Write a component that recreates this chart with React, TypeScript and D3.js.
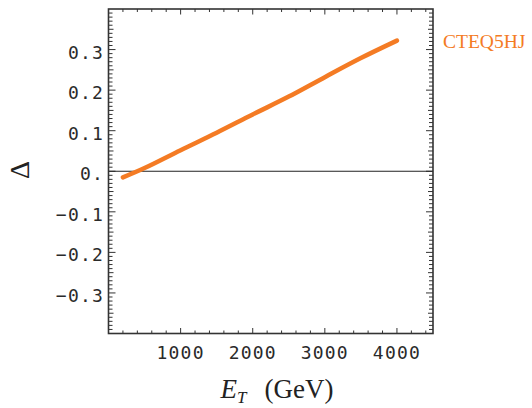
import React, { useEffect, useRef } from "react";
import * as d3 from "d3";

// Δ versus E_T
const energy = [200, 500, 1000, 1500, 2000, 2500, 3000, 3500, 4000];
const delta = [-0.015, 0.008, 0.052, 0.095, 0.14, 0.184, 0.232, 0.279, 0.322];

const xTicks = [1000, 2000, 3000, 4000];
const yTicks = [-0.3, -0.2, -0.1, 0, 0.1, 0.2, 0.3];
const yTickLabels = ["-0.3", "-0.2", "-0.1", "0.", "0.1", "0.2", "0.3"];
const seriesLabel = "CTEQ5HJ";

const W = 532, H = 408;
const orange = "#f47b24";

const App = () => {
  const ref = useRef<SVGSVGElement>(null);

  useEffect(() => {
    const svg = d3.select(ref.current);
    svg.selectAll("*").remove();

    const x = d3.scaleLinear().domain([0, 4500]).range([108.5, 433]);
    const y = d3.scaleLinear().domain([-0.4, 0.4]).range([333.5, 9]);
    const [x0, x1] = x.range();
    const [y0, y1] = y.range();
    const axisCol = "#333";

    const g = svg.append("g");

    // minor / major ticks on all four sides
    const xMinor = d3.range(200, 4500, 200);
    xMinor.forEach((v) => {
      const major = v % 1000 === 0;
      const len = major ? 5.5 : 3;
      g.append("line").attr("x1", x(v)).attr("x2", x(v)).attr("y1", y0).attr("y2", y0 - len)
        .attr("stroke", axisCol).attr("stroke-width", 1);
      g.append("line").attr("x1", x(v)).attr("x2", x(v)).attr("y1", y1).attr("y2", y1 + len)
        .attr("stroke", axisCol).attr("stroke-width", 1);
    });
    const yMinor = d3.range(-39, 40).map((i) => i / 100);
    yMinor.forEach((v) => {
      const k = Math.round(v * 100);
      const major = k % 10 === 0;
      const mid = k % 5 === 0;
      const len = major ? 7 : mid ? 5 : 4;
      g.append("line").attr("x1", x0).attr("x2", x0 + len).attr("y1", y(v)).attr("y2", y(v))
        .attr("stroke", axisCol).attr("stroke-width", 1);
      g.append("line").attr("x1", x1).attr("x2", x1 - len).attr("y1", y(v)).attr("y2", y(v))
        .attr("stroke", axisCol).attr("stroke-width", 1);
    });

    // zero line
    g.append("line").attr("x1", x0).attr("x2", x1).attr("y1", y(0)).attr("y2", y(0))
      .attr("stroke", "#222").attr("stroke-width", 1.2);

    // frame
    g.append("rect").attr("x", x0).attr("y", y1).attr("width", x1 - x0).attr("height", y0 - y1)
      .attr("fill", "none").attr("stroke", axisCol).attr("stroke-width", 1.6);

    // tick labels
    const mono = "'DejaVu Sans Mono', monospace";
    g.selectAll(".xl").data(xTicks).enter().append("text")
      .attr("x", (d) => x(d)).attr("y", 359)
      .attr("text-anchor", "middle").attr("font-family", mono).attr("font-size", 18)
      .attr("letter-spacing", 1.2).attr("fill", "#2a2a2a")
      .text((d) => String(d));
    g.selectAll(".yl").data(yTicks).enter().append("text")
      .attr("x", 104).attr("y", (d) => y(d) + 9)
      .attr("text-anchor", "end").attr("font-family", mono).attr("font-size", 18)
      .attr("letter-spacing", 1.2).attr("fill", "#2a2a2a")
      .text((d, i) => yTickLabels[i].replace("-", "\u2212"));

    // curve
    const line = d3.line<number>()
      .x((d, i) => x(energy[i]))
      .y((d) => y(d))
      .curve(d3.curveCatmullRom);
    g.append("path").attr("d", line(delta))
      .attr("fill", "none").attr("stroke", orange).attr("stroke-width", 4.5)
      .attr("stroke-linecap", "round");

    // series label
    g.append("text").attr("x", 443).attr("y", 48)
      .attr("font-family", "'Liberation Serif', serif").attr("font-size", 19.5)
      .attr("fill", orange).text(seriesLabel);

    // axis titles
    const serif = "'Liberation Serif', serif";
    const xt = g.append("text").attr("x", 277).attr("y", 398).attr("text-anchor", "middle")
      .attr("font-family", serif).attr("font-size", 27).attr("fill", "#222");
    xt.append("tspan").attr("font-style", "italic").text("E");
    xt.append("tspan").attr("font-style", "italic").attr("font-size", 17).attr("dy", 5).text("T");
    xt.append("tspan").attr("dy", -5).attr("dx", 18).text("(GeV)");

    g.append("text").attr("transform", "translate(29,170) rotate(-90)")
      .attr("text-anchor", "middle")
      .attr("font-family", serif).attr("font-size", 28).attr("fill", "#222")
      .text("\u0394");
  }, []);

  return (
    <svg ref={ref} width={W} height={H}
      style={{ position: "absolute", left: 0, top: 0, background: "#fff" }} />
  );
};

export default App;
